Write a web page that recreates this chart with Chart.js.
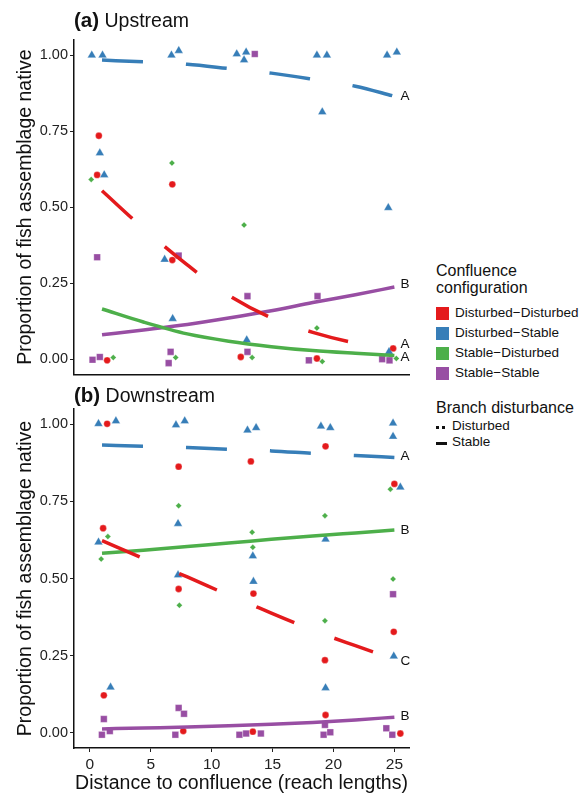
<!DOCTYPE html>
<html>
<head>
<meta charset="utf-8">
<script src="https://cdn.jsdelivr.net/npm/chart.js@4.4.1/dist/chart.umd.min.js"></script>
<style>
  body { margin: 0; background: #fff; font-family: "Liberation Sans", Arial, sans-serif; color: #111; }
  #wrap { position: relative; width: 586px; height: 795px; overflow: hidden; }
  .panel { position: absolute; left: 0; width: 430px; }
  #panel-a { top: 0; height: 385px; }
  #panel-b { top: 385px; height: 410px; }
  .ptitle { position: absolute; left: 74px; font-size: 19.5px; white-space: nowrap; }
  .ptitle b { font-size: 20.5px; }
  .legend { position: absolute; left: 436px; font-size: 13.5px; white-space: nowrap; }
  .legend .head { font-size: 16px; line-height: 17px; }
  .legend .row { position: absolute; left: 0; height: 14px; line-height: 14px; }
  .legend .sw { position: absolute; left: 0; top: 0; width: 13px; height: 13px; }
  .legend .lbl { position: absolute; left: 19px; top: -1px; }
</style>
</head>
<body>
<div id="wrap">
  <div class="panel" id="panel-a"><canvas id="chart-a" width="430" height="385"></canvas></div>
  <div class="panel" id="panel-b"><canvas id="chart-b" width="430" height="410"></canvas></div>
  <div class="ptitle" style="top:8px"><b>(a)</b> Upstream</div>
  <div class="ptitle" style="top:383px"><b>(b)</b> Downstream</div>
  <div id="legend"></div>
</div>
<script>
const CONFIG_NAMES = ["Disturbed\u2212Disturbed", "Disturbed\u2212Stable", "Stable\u2212Disturbed", "Stable\u2212Stable"];
const CONFIG_COLORS = ["#E41A1C", "#377EB8", "#4DAF4A", "#984EA3"];
const BRANCH_NAMES = ["Disturbed", "Stable"];

const X_TICKS = [0, 5, 10, 15, 20, 25];
const Y_TICKS = [0, 0.25, 0.5, 0.75, 1];
const Y_TICK_LABELS = ["0.00", "0.25", "0.50", "0.75", "1.00"];

// upstream points
const upDDx = [0.74, 0.60, 6.77, 6.77, 1.42, 12.39, 18.64, 24.9];
const upDDy = [0.735, 0.606, 0.575, 0.326, -0.004, 0.007, 0.002, 0.035];
const upDSx = [0.16, 1.04, 6.70, 7.30, 12.06, 12.83, 12.66, 18.64, 19.46, 24.40, 25.20, 19.08, 24.50, 0.82, 1.18, 6.14, 6.80, 12.88, 24.56];
const upDSy = [1.0, 1.0, 1.0, 1.015, 1.004, 1.01, 0.984, 1.0, 1.0, 1.0, 1.01, 0.813, 0.498, 0.678, 0.606, 0.328, 0.133, 0.063, 0.024];
const upSDx = [0.11, 6.74, 12.66, 1.92, 7.05, 13.32, 18.64, 19.08, 25.16];
const upSDy = [0.591, 0.645, 0.441, 0.005, 0.005, 0.005, 0.102, -0.008, 0.002];
const upSSx = [0.60, 7.29, 0.22, 0.82, 6.63, 6.47, 12.94, 12.94, 13.54, 18.69, 17.98, 24.00, 24.60];
const upSSy = [0.335, 0.341, -0.002, 0.007, 0.024, -0.013, 0.207, 0.024, 1.004, 0.207, -0.004, 0.0, -0.004];

// downstream points
const downDDx = [1.42, 7.29, 1.09, 7.29, 1.15, 7.67, 13.22, 19.35, 25.00, 13.43, 24.95, 19.30, 19.35, 13.38, 25.49];
const downDDy = [1.002, 0.863, 0.663, 0.466, 0.121, 0.005, 0.880, 0.929, 0.807, 0.451, 0.327, 0.235, 0.057, 0.003, -0.003];
const downDSx = [0.71, 2.14, 7.07, 7.79, 0.71, 7.24, 7.24, 1.70, 12.94, 13.65, 18.97, 19.74, 24.89, 24.89, 25.49, 19.35, 13.38, 13.43, 24.95, 19.35];
const downDSy = [1.002, 1.011, 0.998, 1.011, 0.618, 0.678, 0.511, 0.147, 0.981, 0.989, 0.994, 0.989, 1.004, 0.961, 0.796, 0.627, 0.573, 0.490, 0.248, 0.145];
const downSDx = [1.48, 0.93, 7.29, 7.35, 13.32, 13.38, 19.30, 19.30, 24.67, 24.89];
const downSDy = [0.636, 0.563, 0.736, 0.413, 0.650, 0.601, 0.704, 0.363, 0.790, 0.498];
const downSSx = [1.15, 0.99, 1.64, 7.29, 7.73, 7.02, 12.28, 12.83, 14.04, 19.30, 19.19, 19.74, 24.34, 24.83, 24.89];
const downSSy = [0.044, -0.007, 0.005, 0.080, 0.061, -0.007, -0.007, -0.003, -0.003, 0.025, -0.007, 0.001, 0.014, -0.007, 0.449];

// fitted lines, read at these distances
const fitX = [1, 4.4, 8, 11.4, 14.9, 18.3, 21.8, 25];
const upFitDD = [0.554, 0.43, 0.31, 0.21, 0.136, 0.088, 0.053, 0.033];
const upFitDS = [0.984, 0.978, 0.970, 0.956, 0.941, 0.921, 0.898, 0.865];
const upFitSD = [0.165, 0.122, 0.083, 0.059, 0.041, 0.028, 0.019, 0.012];
const upFitSS = [0.080, 0.096, 0.114, 0.135, 0.159, 0.186, 0.212, 0.237];
const downFitDD = [0.623, 0.565, 0.505, 0.446, 0.388, 0.332, 0.282, 0.238];
const downFitDS = [0.933, 0.929, 0.925, 0.919, 0.914, 0.906, 0.899, 0.893];
const downFitSD = [0.582, 0.592, 0.604, 0.615, 0.627, 0.638, 0.648, 0.657];
const downFitSS = [0.012, 0.015, 0.018, 0.022, 0.027, 0.033, 0.041, 0.050];

// letters at the line ends
const upLetters = ["A", "B", "A", "A"];
const upLetterY = [0.865, 0.247, 0.048, 0.005];
const downLetters = ["A", "B", "C", "B"];
const downLetterY = [0.895, 0.657, 0.231, 0.052];

const FONT = "'Liberation Sans', Arial, sans-serif";
Chart.defaults.font.family = FONT;
Chart.defaults.color = "#222";

function zip(xs, ys) {
  return xs.map((x, i) => ({ x: x, y: ys[i] }));
}

function pointSet(xs, ys, idx, style, radius, order) {
  return {
    data: zip(xs, ys),
    showLine: false,
    pointStyle: style,
    pointRadius: radius,
    pointHoverRadius: radius,
    pointBackgroundColor: CONFIG_COLORS[idx],
    pointBorderColor: "rgba(255,255,255,0.6)",
    pointBorderWidth: 0.5,
    order: order,
  };
}

function fitSet(ys, idx, dashed) {
  return {
    data: zip(fitX, ys),
    showLine: true,
    borderColor: CONFIG_COLORS[idx],
    borderWidth: 3.5,
    borderDash: dashed ? [41, 43] : [],
    borderCapStyle: "butt",
    cubicInterpolationMode: "monotone",
    pointRadius: 0,
    order: idx,
  };
}

const endLetters = {
  id: "endLetters",
  afterDatasetsDraw(chart, args, opts) {
    const { ctx, scales } = chart;
    ctx.save();
    ctx.font = "13.5px " + FONT;
    ctx.fillStyle = "#111";
    ctx.textBaseline = "middle";
    ctx.textAlign = "left";
    opts.text.forEach((t, i) => {
      ctx.fillText(t, scales.x.getPixelForValue(25) + 6, scales.y.getPixelForValue(opts.y[i]));
    });
    ctx.restore();
  },
};

function makeChart(canvasId, pts, fits, letters, letterY, showX, padTop, xHeight) {
  const datasets = [
    fitSet(fits[0], 0, true),
    fitSet(fits[1], 1, true),
    fitSet(fits[2], 2, false),
    fitSet(fits[3], 3, false),
    pointSet(pts[2], pts[3], 1, "triangle", 5.0, 4),
    pointSet(pts[0], pts[1], 0, "circle", 3.4, 5),
    pointSet(pts[4], pts[5], 2, "rectRot", 3.0, 6),
    pointSet(pts[6], pts[7], 3, "rect", 4.7, 7),
  ];

  return new Chart(document.getElementById(canvasId), {
    type: "scatter",
    data: { datasets: datasets },
    plugins: [endLetters],
    options: {
      responsive: false,
      animation: false,
      layout: { padding: { top: padTop, right: 21, left: 0, bottom: 0 } },
      plugins: {
        legend: { display: false },
        tooltip: { enabled: false },
        endLetters: { text: letters, y: letterY },
      },
      scales: {
        x: {
          type: "linear",
          min: -1.3,
          max: 26.2,
          afterBuildTicks: (scale) => { scale.ticks = X_TICKS.map((v) => ({ value: v })); },
          afterFit: (scale) => { scale.height = xHeight; },
          ticks: { display: showX, font: { size: 15.5 }, color: "#222", padding: 3, maxRotation: 0 },
          grid: { display: true, drawOnChartArea: false, drawTicks: showX, tickLength: 4, tickColor: "#222", tickWidth: 1 },
          border: { display: true, color: "#111", width: 1.5 },
          title: {
            display: showX,
            text: "Distance to confluence (reach lengths)",
            font: { size: 19.5 },
            color: "#111",
            padding: { top: 0, bottom: 0 },
          },
        },
        y: {
          type: "linear",
          min: -0.05,
          max: 1.05,
          afterBuildTicks: (scale) => { scale.ticks = Y_TICKS.map((v) => ({ value: v })); },
          afterFit: (scale) => { scale.width = 74; },
          ticks: {
            font: { size: 14.5 },
            color: "#222",
            padding: 2,
            callback: (value) => Y_TICK_LABELS[Y_TICKS.indexOf(value)],
          },
          grid: { display: true, drawOnChartArea: false, drawTicks: true, tickLength: 4, tickColor: "#222", tickWidth: 1 },
          border: { display: true, color: "#111", width: 1.5 },
          title: {
            display: true,
            text: "Proportion of fish assemblage native",
            font: { size: 19.5 },
            color: "#111",
            padding: { top: 14, bottom: 0 },
          },
        },
      },
    },
  });
}

function buildLegend() {
  const el = document.getElementById("legend");
  let html = '<div class="legend" style="top:262px"><div class="head">Confluence<br>configuration</div></div>';
  const rowTops = [307, 327, 347, 367];
  CONFIG_NAMES.forEach((name, i) => {
    html += '<div class="legend"><div class="row" style="top:' + rowTops[i] + 'px">' +
      '<span class="sw" style="background:' + CONFIG_COLORS[i] + '"></span>' +
      '<span class="lbl">' + name + '</span></div></div>';
  });
  html += '<div class="legend" style="top:399px"><div class="head">Branch disturbance</div></div>';
  const keyTops = [420, 436];
  BRANCH_NAMES.forEach((name, i) => {
    const key = i === 0
      ? '<span style="position:absolute;left:0;top:6px;width:3px;height:3px;background:#111"></span>' +
        '<span style="position:absolute;left:6px;top:6px;width:3px;height:3px;background:#111"></span>'
      : '<span style="position:absolute;left:0;top:6px;width:11px;height:3px;background:#111"></span>';
    html += '<div class="legend"><div class="row" style="top:' + keyTops[i] + 'px">' + key +
      '<span class="lbl" style="left:16px">' + name + '</span></div></div>';
  });
  el.innerHTML = html;
}

makeChart("chart-a", [upDDx, upDDy, upDSx, upDSy, upSDx, upSDy, upSSx, upSSy],
  [upFitDD, upFitDS, upFitSD, upFitSS], upLetters, upLetterY, false, 40, 8);
makeChart("chart-b", [downDDx, downDDy, downDSx, downDSy, downSDx, downSDy, downSSx, downSSy],
  [downFitDD, downFitDS, downFitSD, downFitSS], downLetters, downLetterY, true, 24, 47);
buildLegend();
</script>
</body>
</html>
